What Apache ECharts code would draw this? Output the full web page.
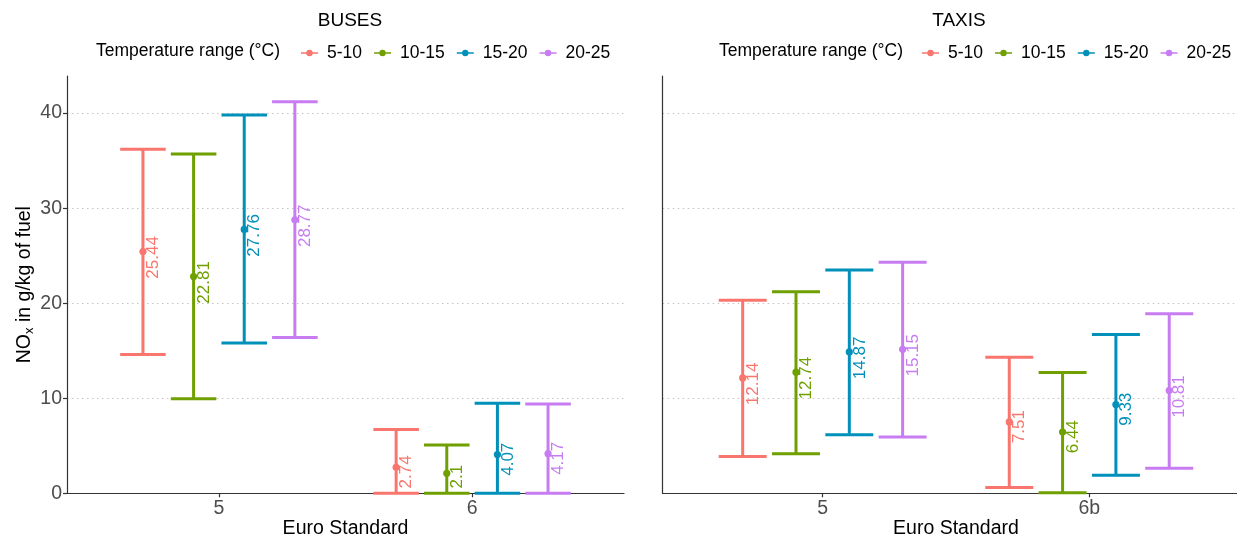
<!DOCTYPE html>
<html>
<head>
<meta charset="utf-8">
<script src="https://cdn.jsdelivr.net/npm/echarts@6/dist/echarts.min.js"></script>
<style>
html,body{margin:0;padding:0;background:#fff;}
#chart{width:1237px;height:536px;}
</style>
</head>
<body>
<div id="chart"></div>
<script>
// ---- data ----
const ranges = ['5-10', '10-15', '15-20', '20-25'];
const busCategories = ['5', '6'];
const taxiCategories = ['5', '6b'];
// values per temperature range, then per Euro standard
const busMean = [[25.44, 2.74], [22.81, 2.1], [27.76, 4.07], [28.77, 4.17]];
const busLow  = [[14.6, 0], [9.95, 0], [15.8, 0], [16.4, 0]];
const busHigh = [[36.2, 6.7], [35.7, 5.07], [39.8, 9.47], [41.2, 9.4]];
const taxiMean = [[12.14, 7.51], [12.74, 6.44], [14.87, 9.33], [15.15, 10.81]];
const taxiLow  = [[3.87, 0.6], [4.15, 0.07], [6.16, 1.9], [5.91, 2.64]];
const taxiHigh = [[20.3, 14.3], [21.2, 12.7], [23.5, 16.7], [24.3, 18.9]];
const yTicks = [0, 10, 20, 30, 40];

// ---- styles ----
const colors = ['#F8766D', '#6FA000', '#0090BA', '#C77CF2'];
const dodge = [-0.3, -0.1, 0.1, 0.3];
const FONT = '"Liberation Sans", Arial, sans-serif';
const labelFont = '17px ' + FONT;
const mctx = document.createElement('canvas').getContext('2d');
mctx.font = labelFont;

function renderItem(params, api) {
  const x = api.value(0), lo = api.value(1), mean = api.value(2), hi = api.value(3);
  const pLo = api.coord([x, lo]);
  const pHi = api.coord([x, hi]);
  const pM = api.coord([x, mean]);
  const half = api.size([0.18, 0])[0] / 2;
  const color = api.visual('color');
  const txt = String(mean);
  const len = mctx.measureText(txt).width;
  const ls = { stroke: color, lineWidth: 3 };
  return {
    type: 'group',
    children: [
      { type: 'line', shape: { x1: pLo[0], y1: pLo[1], x2: pHi[0], y2: pHi[1] }, style: ls },
      { type: 'line', shape: { x1: pLo[0] - half, y1: pLo[1], x2: pLo[0] + half, y2: pLo[1] }, style: ls },
      { type: 'line', shape: { x1: pHi[0] - half, y1: pHi[1], x2: pHi[0] + half, y2: pHi[1] }, style: ls },
      { type: 'circle', shape: { cx: pM[0], cy: pM[1], r: 3.6 }, style: { fill: color } },
      { type: 'text', x: pM[0] + 10.5, y: pM[1] + 0.14 * len, rotation: Math.PI / 2,
        style: { text: txt, fill: color, font: labelFont, align: 'center', verticalAlign: 'middle' } }
    ]
  };
}

function buildSeries(meanArr, lowArr, highArr, gi) {
  return ranges.map((name, r) => ({
    type: 'custom',
    name: name,
    xAxisIndex: gi,
    yAxisIndex: gi,
    renderItem: renderItem,
    itemStyle: { color: colors[r] },
    data: meanArr[r].map((m, c) => [c + 1 + dodge[r], lowArr[r][c], m, highArr[r][c]]),
    encode: { x: 0, y: [1, 3] },
    z: 5
  }));
}

function xAxisFor(cats, gi) {
  return {
    type: 'value', gridIndex: gi, min: 0.4, max: 2.6,
    name: 'Euro Standard', nameLocation: 'middle', nameGap: 25, nameMoveOverlap: false,
    nameTextStyle: { color: '#000', fontSize: 19.5, fontFamily: FONT },
    axisLine: { show: true, onZero: false, lineStyle: { color: '#333', width: 1.2 } },
    axisTick: { show: true, length: 4, customValues: [1, 2], lineStyle: { color: '#333', width: 1.2 } },
    axisLabel: { customValues: [1, 2], formatter: v => cats[Math.round(v) - 1] || '',
      color: '#4d4d4d', fontSize: 19.5, fontFamily: FONT, margin: 5 },
    splitLine: { show: false }
  };
}
function yAxisFor(gi, showLabels) {
  return {
    type: 'value', gridIndex: gi, min: 0, max: 43.9, interval: 10,
    name: showLabels ? '{a|NO}{s|x}{a| in g/kg of fuel}' : '',
    nameLocation: 'middle', nameGap: 31,
    nameTextStyle: { rich: {
      a: { fontSize: 19.5, color: '#000', fontFamily: FONT },
      s: { fontSize: 13, color: '#000', fontFamily: FONT, padding: [9, 0, 0, 0] } } },
    axisLine: { show: true, lineStyle: { color: '#333', width: 1.2 } },
    axisTick: { show: showLabels, length: 4, customValues: yTicks, lineStyle: { color: '#333', width: 1.2 } },
    axisLabel: { show: showLabels, color: '#4d4d4d', fontSize: 19.5, fontFamily: FONT, margin: 5,
      customValues: yTicks },
    splitLine: { show: true, lineStyle: { color: '#c4c4c4', width: 1.1, type: [1.5, 3.5] } }
  };
}

const legendIcon = 'path://M0,3.2H16V4.8H0Z M11,4A3,3 0 1 1 5,4A3,3 0 1 1 11,4Z';
function legendFor(left) {
  return {
    left: left, top: 39, width: 420, orient: 'horizontal', data: ranges,
    icon: legendIcon, itemWidth: 17, itemHeight: 7, itemGap: 12,
    textStyle: { color: '#000', fontSize: 17.5, fontFamily: FONT, padding: [0, 0, 0, 4] },
    selectedMode: false
  };
}

const chart = echarts.init(document.getElementById('chart'), null, { renderer: 'canvas' });
chart.setOption({
  animation: false,
  backgroundColor: '#fff',
  grid: [
    { left: 67, width: 557, top: 76, bottom: 42.7, outerBoundsMode: 'none', containLabel: false },
    { left: 662.7, width: 586.5, top: 76, bottom: 42.7, outerBoundsMode: 'none', containLabel: false }
  ],
  xAxis: [xAxisFor(busCategories, 0), xAxisFor(taxiCategories, 1)],
  yAxis: [yAxisFor(0, true), yAxisFor(1, false)],
  legend: [legendFor(296), legendFor(917)],
  graphic: [
    { type: 'text', x: 350, y: 21, style: { text: 'BUSES', font: '19px ' + FONT, fill: '#000', align: 'center', verticalAlign: 'middle' } },
    { type: 'text', x: 959, y: 21, style: { text: 'TAXIS', font: '19px ' + FONT, fill: '#000', align: 'center', verticalAlign: 'middle' } },
    { type: 'text', x: 96, y: 51, style: { text: 'Temperature range (°C)', font: '17.5px ' + FONT, fill: '#000', align: 'left', verticalAlign: 'middle' } },
    { type: 'text', x: 719, y: 51, style: { text: 'Temperature range (°C)', font: '17.5px ' + FONT, fill: '#000', align: 'left', verticalAlign: 'middle' } }
  ],
  series: buildSeries(busMean, busLow, busHigh, 0).concat(buildSeries(taxiMean, taxiLow, taxiHigh, 1))
});
</script>
</body>
</html>
